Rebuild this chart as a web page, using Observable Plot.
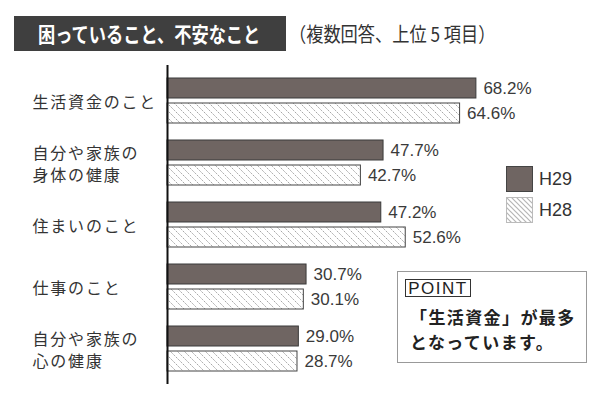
<!DOCTYPE html>
<html>
<head>
<meta charset="utf-8">
<script src="https://cdn.jsdelivr.net/npm/d3@7"></script>
<script src="https://cdn.jsdelivr.net/npm/@observablehq/plot@0.6"></script>
<style>
  html, body { margin: 0; padding: 0; background: #fff; }
  body { width: 600px; height: 399px; position: relative; overflow: hidden; font-family: 'Noto Sans CJK JP', sans-serif; }
  #header { height: 62px; position: relative; }
  #title { position: absolute; left: 14px; top: 16px; width: 272px; height: 35px; background: #3f3f3f; }
  #title span { position: absolute; left: 24px; top: 0; line-height: 35px; font-size: 21px; font-weight: bold; color: #fff; white-space: nowrap; transform: scaleX(0.82); transform-origin: left center; }
  #subtitle { position: absolute; left: 289px; top: 16px; line-height: 35px; font-size: 20px; color: #333; white-space: nowrap; transform: scaleX(0.86); transform-origin: left center; }
  #legend { position: absolute; left: 506px; top: 166px; }
  .leg { display: flex; align-items: center; height: 26px; margin-bottom: 5px; }
  .leg svg { display: block; }
  .leg span { margin-left: 6px; font-family: 'Liberation Sans', Arial, sans-serif; font-size: 18px; color: #333; }
  #point { position: absolute; left: 397px; top: 271px; width: 190px; height: 92px; box-sizing: border-box; border: 1.5px solid #999; }
  #point .tag { position: absolute; left: 7px; top: 7px; width: 66px; height: 18px; box-sizing: border-box; border: 1px solid #333; font-family: 'Liberation Sans', Arial, sans-serif; font-size: 17px; line-height: 17px; letter-spacing: 1.5px; text-align: center; color: #222; }
  #point .msg { position: absolute; left: 12px; top: 32px; font-size: 17px; font-weight: bold; letter-spacing: 1.4px; line-height: 25px; color: #222; white-space: nowrap; }
</style>
</head>
<body>
<div id="header">
  <div id="title"><span></span></div>
  <div id="subtitle"></div>
</div>
<div id="chart"></div>
<div id="legend"></div>
<div id="point"><div class="tag"></div><div class="msg"></div></div>
<script>
// ---- data ----
const titleText = "困っていること、不安なこと";
const subtitleText = "（複数回答、上位 5 項目）";
const categories = ["生活資金のこと", "自分や家族の\n身体の健康", "住まいのこと", "仕事のこと", "自分や家族の\n心の健康"];
const h29 = [68.2, 47.7, 47.2, 30.7, 29.0];
const h28 = [64.6, 42.7, 52.6, 30.1, 28.7];
const seriesNames = ["H29", "H28"];
const pointTag = "POINT";
const pointLines = ["「生活資金」が最多", "となっています。"];

const rows = categories.map((c, i) => ({cat: c, h29: h29[i], h28: h28[i]}));
const fmt = v => v.toFixed(1) + "%";

document.querySelector("#title span").textContent = titleText;
document.querySelector("#subtitle").textContent = subtitleText;
document.querySelector("#point .tag").textContent = pointTag;
document.querySelector("#point .msg").innerHTML = pointLines.join("<br>");

const H29_FILL = "#6f6562";

const defs = () => {
  const d = d3.create("svg:defs");
  const p = d.append("pattern").attr("id", "hatch28").attr("patternUnits", "userSpaceOnUse")
    .attr("width", 7).attr("height", 7);
  p.append("rect").attr("width", 7).attr("height", 7).attr("fill", "#fff");
  p.append("path").attr("d", "M-1,-1 L8,8 M-8,-1 L1,8 M6,-1 L15,8")
    .attr("stroke", "#8a8a8a").attr("stroke-width", 1).attr("stroke-dasharray", "1.3,1.3");
  return d.node();
};

const chart = Plot.plot({
  width: 600,
  height: 337,
  marginLeft: 167,
  marginRight: 0,
  marginTop: 3,
  marginBottom: 15,
  x: {domain: [0, 95.6], axis: null},
  y: {domain: categories, paddingInner: 0.28, paddingOuter: 0.192, axis: null},
  style: {fontFamily: "'Noto Sans CJK JP', sans-serif", color: "#333", background: "transparent", overflow: "visible"},
  marks: [
    defs,
    Plot.barX(rows, {x: "h29", y: "cat", insetBottom: 25, fill: H29_FILL, stroke: "#3a3a3a", strokeWidth: 1}),
    Plot.barX(rows, {x: "h28", y: "cat", insetTop: 25, fill: "url(#hatch28)", stroke: "#444", strokeWidth: 1}),
    Plot.ruleX([0], {stroke: "#111", strokeWidth: 2}),
    Plot.text(rows, {x: "h29", y: "cat", dy: -12.5, dx: 7, text: d => fmt(d.h29), textAnchor: "start",
      fontSize: 17, fontFamily: "'Liberation Sans', Arial, sans-serif", fill: "#3a3a3a"}),
    Plot.text(rows, {x: "h28", y: "cat", dy: 12.5, dx: 7, text: d => fmt(d.h28), textAnchor: "start",
      fontSize: 17, fontFamily: "'Liberation Sans', Arial, sans-serif", fill: "#3a3a3a"}),
    Plot.text(categories, {y: d => d, text: d => d, frameAnchor: "left", dx: -135, textAnchor: "start",
      fontSize: 16, lineHeight: 1.4, fill: "#333", ariaDescription: "categories"})
  ]
});
d3.select(chart).selectAll('g[aria-description="categories"]').attr("letter-spacing", "1.8px");
document.getElementById("chart").appendChild(chart);

// legend
const legend = d3.select("#legend");
seriesNames.forEach((name, i) => {
  const row = legend.append("div").attr("class", "leg");
  const s = row.append("svg").attr("width", 27).attr("height", 26);
  if (i === 0) {
    s.append("rect").attr("x", 0.5).attr("y", 0.5).attr("width", 26).attr("height", 25)
      .attr("fill", H29_FILL).attr("stroke", "#444");
  } else {
    const p = s.append("defs").append("pattern").attr("id", "hatchLeg").attr("patternUnits", "userSpaceOnUse")
      .attr("width", 5).attr("height", 5);
    p.append("rect").attr("width", 5).attr("height", 5).attr("fill", "#fff");
    p.append("path").attr("d", "M-1,-1 L6,6 M-6,-1 L1,6 M4,-1 L11,6").attr("stroke", "#b5b5b5").attr("stroke-width", 1.2);
    s.append("rect").attr("x", 0.5).attr("y", 0.5).attr("width", 26).attr("height", 25)
      .attr("fill", "url(#hatchLeg)").attr("stroke", "#bbb");
  }
  row.append("span").text(name);
});
</script>
</body>
</html>
